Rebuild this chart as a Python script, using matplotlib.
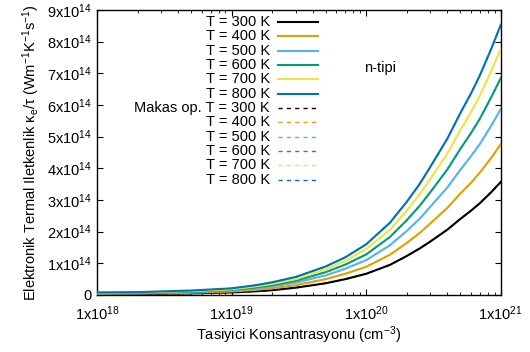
import math
import matplotlib
matplotlib.use("Agg")
import matplotlib.pyplot as plt
from matplotlib.ticker import FixedLocator, LogLocator, NullFormatter

plt.rcParams['font.family'] = ['Liberation Sans', 'DejaVu Sans']
plt.rcParams['mathtext.default'] = 'regular'
FS = 10.5

# carrier concentration (cm^-3)
conc = [1e18, 2e18, 5e18, 1e19, 1.5e19, 2e19, 3e19, 5e19, 7e19, 1e20, 1.5e20, 2e20,
        2.5e20, 3e20, 4e20, 5e20, 6e20, 7e20, 8.5e20, 1e21]

# kappa_e / tau in units of 1e14
k300 = [0.03, 0.035, 0.05, 0.08, 0.115, 0.15, 0.23, 0.37, 0.50, 0.67, 0.95, 1.23,
        1.47, 1.69, 2.06, 2.40, 2.66, 2.90, 3.25, 3.57]
k400 = [0.04, 0.05, 0.07, 0.11, 0.16, 0.21, 0.31, 0.50, 0.67, 0.89, 1.27, 1.64,
        1.96, 2.26, 2.75, 3.20, 3.54, 3.87, 4.33, 4.77]
k500 = [0.05, 0.06, 0.09, 0.14, 0.20, 0.27, 0.39, 0.62, 0.83, 1.10, 1.57, 2.02,
        2.41, 2.79, 3.39, 3.95, 4.38, 4.77, 5.35, 5.87]
k600 = [0.06, 0.07, 0.10, 0.16, 0.24, 0.31, 0.45, 0.72, 0.96, 1.28, 1.83, 2.36,
        2.82, 3.25, 3.96, 4.61, 5.11, 5.57, 6.25, 6.85]
k700 = [0.07, 0.08, 0.12, 0.18, 0.27, 0.35, 0.50, 0.81, 1.08, 1.45, 2.06, 2.66,
        3.18, 3.67, 4.46, 5.20, 5.77, 6.30, 7.07, 7.77]
k800 = [0.08, 0.09, 0.14, 0.21, 0.306, 0.40, 0.57, 0.90, 1.19, 1.60, 2.28, 2.94,
        3.51, 4.05, 4.93, 5.74, 6.36, 6.94, 7.78, 8.53]

# scissors-operator results (lie under the full curves)
s300 = [0.02, 0.03, 0.05] + k300[3:]
s400 = [0.02, 0.03, 0.06] + k400[3:]
s500 = [0.02, 0.03, 0.07] + k500[3:]
s600 = [0.02, 0.03, 0.08] + k600[3:]
s700 = [0.02, 0.03, 0.09] + k700[3:]
s800 = [0.02, 0.03, 0.10] + k800[3:]

temps = [300, 400, 500, 600, 700, 800]
colors = ['#000000', '#e69f00', '#56b4e9', '#009e73', '#f0e442', '#0072b2']

yticks = [0, 1, 2, 3, 4, 5, 6, 7, 8, 9]
xticks = [1e18, 1e19, 1e20, 1e21]

fig = plt.figure(figsize=(5.30, 3.52), dpi=100)
ax = fig.add_axes([0.183, 0.162, 0.762, 0.81])

full = [k300, k400, k500, k600, k700, k800]
scis = [s300, s400, s500, s600, s700, s800]

for vals, c in zip(scis, colors):
    ax.plot(conc, [v * 1e14 for v in vals], color=c, lw=1.0, ls=(0, (3, 3)), zorder=2)
for vals, c in zip(full, colors):
    ax.plot(conc, [v * 1e14 for v in vals], color=c, lw=1.5, zorder=3)

ax.set_xscale('log')
ax.set_xlim(1e18, 1e21)
ax.set_ylim(0, 9e14)
ax.xaxis.set_major_locator(FixedLocator(xticks))
ax.xaxis.set_minor_locator(LogLocator(base=10, subs=range(2, 10)))
ax.xaxis.set_minor_formatter(NullFormatter())
ax.set_xticks(xticks, [r'$1x10^{%d}$' % round(math.log10(t)) for t in xticks])
ax.set_yticks([v * 1e14 for v in yticks],
              ['0' if v == 0 else r'$%dx10^{14}$' % v for v in yticks])
ax.tick_params(which='both', direction='in', top=True, right=True, labelsize=FS)
ax.tick_params(which='major', length=4, width=0.8)
ax.tick_params(which='minor', length=2, width=0.6)
ax.tick_params(axis='x', pad=7)
ax.tick_params(axis='y', pad=4)
for s in ax.spines.values():
    s.set_linewidth(1.0)

ax.set_xlabel(r'Tasiyici Konsantrasyonu (cm$^{-3}$)', fontsize=FS, labelpad=1)
ax.set_ylabel(r'Elektronik Termal Iletkenlik κ$_e$/τ (Wm$^{-1}$K$^{-1}$s$^{-1}$)',
              fontsize=FS, labelpad=3)

# gnuplot-style key: right-aligned text, sample line on the right
labels = ['T = %d K' % t for t in temps] + \
         ['Makas op. T = %d K' % temps[0]] + ['T = %d K' % t for t in temps[1:]]
styles = [('-', 1.5)] * 6 + [((0, (3, 3)), 1.0)] * 6
key_colors = colors + colors
y0, dy = 0.957, 0.0502
for i, (lab, (ls, lw), c) in enumerate(zip(labels, styles, key_colors)):
    y = y0 - i * dy
    ax.text(0.428, y, lab, transform=ax.transAxes, ha='right', va='center', fontsize=FS)
    ax.plot([0.448, 0.547], [y, y], transform=ax.transAxes, color=c, ls=ls, lw=lw,
            clip_on=False)

ax.text(0.70, 0.796, 'n-tipi', transform=ax.transAxes, ha='center', va='center', fontsize=FS)

fig.savefig('out.png', dpi=100)
